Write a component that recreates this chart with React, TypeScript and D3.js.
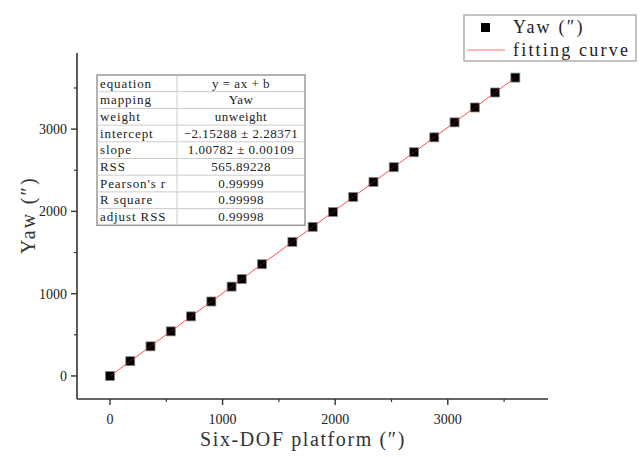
import React from "react";
import * as d3 from "d3";

const platform = [0, 180, 360, 540, 720, 900, 1080, 1170, 1350, 1620, 1800, 1980, 2160, 2340, 2520, 2700, 2880, 3060, 3240, 3420, 3600];
const yaw = [0, 180, 360, 542, 724, 905, 1086, 1177, 1358, 1630, 1812, 1993, 2175, 2357, 2537, 2719, 2900, 3082, 3263, 3445, 3626];
const fitSlope = 1.00782;
const fitIntercept = -2.15288;
const xTicks = [0, 1000, 2000, 3000];
const xMinorTicks = [500, 1500, 2500, 3500];
const yTicks = [0, 1000, 2000, 3000];
const yMinorTicks = [500, 1500, 2500, 3500];
const tableRows: [string, string][] = [
  ["equation", "y = ax + b"],
  ["mapping", "Yaw"],
  ["weight", "unweight"],
  ["intercept", "−2.15288 ± 2.28371"],
  ["slope", "1.00782 ± 0.00109"],
  ["RSS", "565.89228"],
  ["Pearson's r", "0.99999"],
  ["R square", "0.99998"],
  ["adjust RSS", "0.99998"],
];

const W = 644, H = 457;
const serif = "'Liberation Serif', 'DejaVu Serif', serif";

export default function App() {
  const x = d3.scaleLinear().domain([-293, 3890]).range([77, 548]);
  const y = d3.scaleLinear().domain([-280, 3925]).range([399, 53]);
  const line = d3.line<number>().x((d) => x(d)).y((d) => y(fitSlope * d + fitIntercept));
  const tX = 97, tY = 75, tW = 208, rowH = 16.7, col = 177;
  const xLabel = "Six-DOF platform (″)";
  const yLabel = "Yaw (″)";
  return (
    <svg width={W} height={H} style={{ position: "absolute", left: 0, top: 0, background: "#fff" }}>
      {/* axes */}
      <line x1={x.range()[0]} x2={x.range()[1]} y1={399} y2={399} stroke="#333" strokeWidth={1.6} />
      <line x1={77} x2={77} y1={y.range()[0]} y2={y.range()[1]} stroke="#333" strokeWidth={1.6} />
      {xTicks.map((t) => (
        <g key={"xt" + t}>
          <line x1={x(t)} x2={x(t)} y1={399} y2={405} stroke="#333" strokeWidth={1.4} />
          <text x={x(t)} y={424} textAnchor="middle" fontFamily={serif} fontSize={14} fill="#222">{t}</text>
        </g>
      ))}
      {xMinorTicks.map((t) => (
        <line key={"xm" + t} x1={x(t)} x2={x(t)} y1={399} y2={402} stroke="#333" strokeWidth={1.2} />
      ))}
      {yTicks.map((t) => (
        <g key={"yt" + t}>
          <line x1={71} x2={77} y1={y(t)} y2={y(t)} stroke="#333" strokeWidth={1.4} />
          <text x={67} y={y(t) + 5} textAnchor="end" fontFamily={serif} fontSize={14} fill="#222">{t}</text>
        </g>
      ))}
      {yMinorTicks.map((t) => (
        <line key={"ym" + t} x1={74} x2={77} y1={y(t)} y2={y(t)} stroke="#333" strokeWidth={1.2} />
      ))}
      <text x={303} y={446} textAnchor="middle" fontFamily={serif} fontSize={20} letterSpacing={1.6} fill="#333">{xLabel}</text>
      <text transform={`translate(35,${215}) rotate(-90)`} textAnchor="middle" fontFamily={serif} fontSize={20} letterSpacing={2.2} fill="#333">{yLabel}</text>

      {/* fit line */}
      <path d={line([0, 3600]) || ""} fill="none" stroke="#ff7070" strokeWidth={1} />
      {/* points */}
      {platform.map((p, i) => (
        <rect key={i} x={x(p) - 4.5} y={y(yaw[i]) - 4.5} width={9} height={9} fill="#000" stroke="#888" strokeWidth={0.8} />
      ))}
      <path d={line([0, 3600]) || ""} fill="none" stroke="#ff4040" strokeOpacity={0.35} strokeWidth={1} />

      {/* table */}
      <rect x={tX} y={tY} width={tW} height={rowH * tableRows.length} fill="#fff" stroke="#999" strokeWidth={1.5} />
      {tableRows.map((r, i) => (
        <g key={"row" + i}>
          {i > 0 && <line x1={tX} x2={tX + tW} y1={tY + rowH * i} y2={tY + rowH * i} stroke="#ccc" strokeWidth={1} />}
          <text x={tX + 3} y={tY + rowH * i + 12.5} fontFamily={serif} fontSize={13} letterSpacing={0.9} fill="#222">{r[0]}</text>
          <text x={(col + tX + tW) / 2} y={tY + rowH * i + 12.5} textAnchor="middle" fontFamily={serif} fontSize={13} letterSpacing={0.5} fill="#222">{r[1]}</text>
        </g>
      ))}
      <line x1={col} x2={col} y1={tY} y2={tY + rowH * tableRows.length} stroke="#ccc" strokeWidth={1} />

      {/* legend */}
      <rect x={464} y={15} width={172} height={46} fill="#fff" stroke="#999" strokeWidth={1.2} />
      <rect x={481} y={23} width={9} height={9} fill="#000" />
      <text x={513} y={33} fontFamily={serif} fontSize={18} letterSpacing={2.2} fill="#222">{yLabel}</text>
      <line x1={467} x2={505} y1={50} y2={50} stroke="#ff7070" strokeWidth={1} />
      <text x={513} y={56} fontFamily={serif} fontSize={18} letterSpacing={2.2} fill="#222">fitting curve</text>
    </svg>
  );
}
